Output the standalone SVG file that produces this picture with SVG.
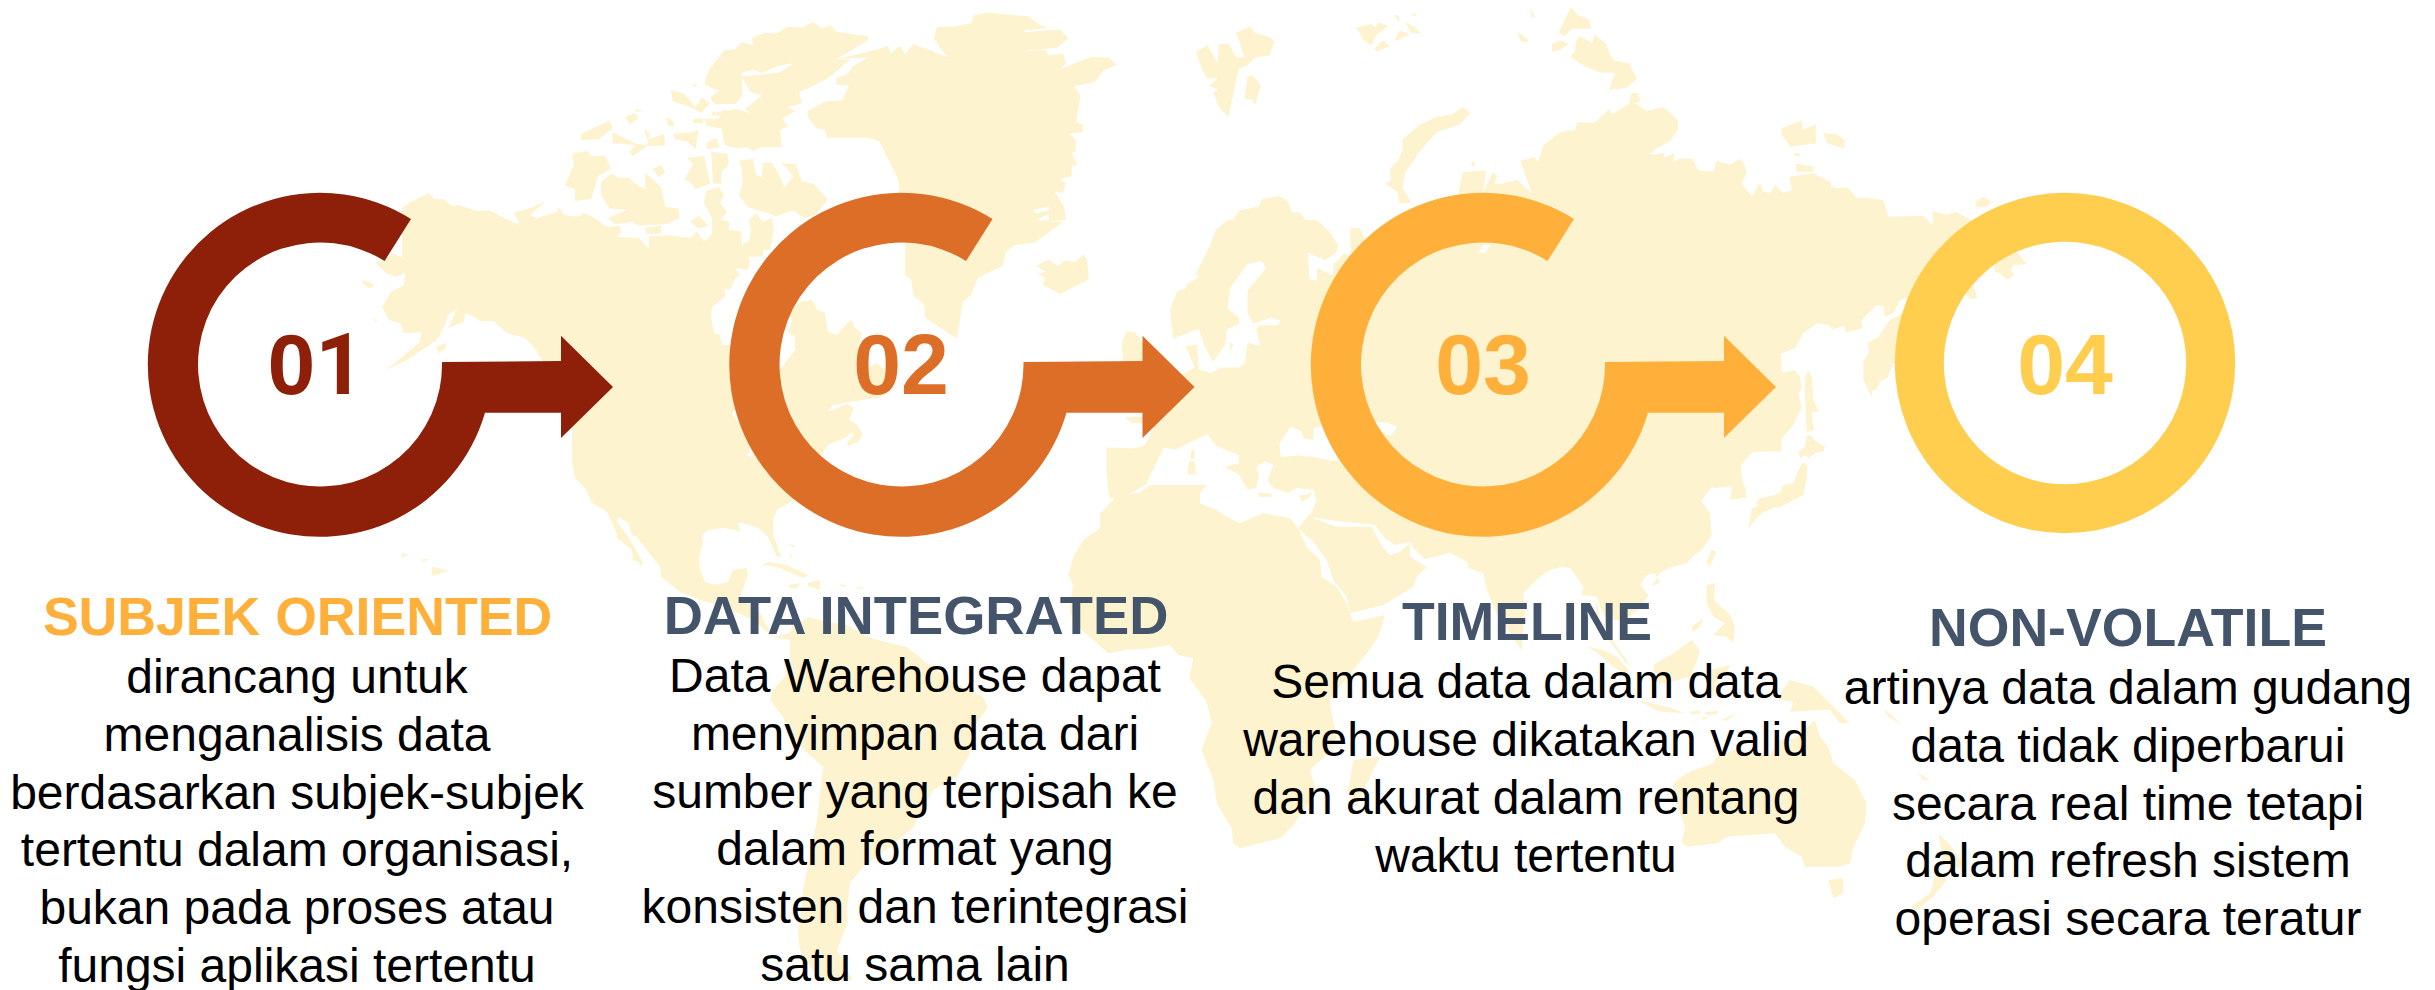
<svg xmlns="http://www.w3.org/2000/svg" width="2435" height="990" viewBox="0 0 2435 990">
<style>
.land polygon{fill:#FDF3CF}
.land polygon.sea{fill:#fff}
text{font-family:"Liberation Sans",Arial,sans-serif;text-anchor:middle}
.num{font-size:86px;font-weight:700}
.one{font-family:Roboto,"Liberation Sans",sans-serif}
.title{font-size:53.6px;font-weight:700;fill:#44546A}
.title.accent{fill:#FFB03B}
.body{font-size:48px;fill:#000}
</style>
<rect width="2435" height="990" fill="#fff"/>
<g id="world-map" class="land">
<polygon points="375,262 384,261 393,253 402,258 402,208 411,202 429,193 434,199 443,199 452,206 459,205 477,211 489,210 504,218 520,225 514,213 530,208 546,201 530,215 537,218 557,212 559,207 564,215 571,216 577,217 584,213 593,217 607,227 620,226 621,232 617,237 639,238 649,249 649,236 658,236 667,235 690,238 697,231 704,242 712,234 712,218 704,203 706,191 719,187 724,195 720,203 727,212 720,220 729,221 729,230 741,231 742,245 749,241 751,230 749,220 756,213 763,222 772,218 774,230 770,250 763,250 763,256 748,257 750,260 748,270 735,268 740,275 735,279 730,290 720,288 725,290 725,297 712,307 711,317 714,333 720,335 722,345 730,345 757,373 782,367 795,350 795,337 788,332 792,322 790,312 800,302 812,300 817,310 825,313 828,332 837,335 847,323 852,320 854,327 862,333 858,347 870,367 877,363 885,370 887,393 882,397 850,402 833,405 827,412 847,404 854,408 849,420 857,425 863,434 858,442 848,446 847,442 854,435 852,432 847,437 828,445 823,453 797,498 777,510 773,520 773,533 781,557 777,557 768,537 758,528 743,523 738,523 740,532 735,530 723,528 708,530 702,535 703,543 699,557 700,570 705,582 715,585 728,582 733,570 747,568 748,575 740,597 760,613 773,637 790,640 790,670 773,690 770,700 783,717 793,740 823,767 817,820 803,890 798,933 800,950 810,967 827,982 853,980 847,970 837,950 848,922 847,910 850,883 863,867 890,847 913,828 933,790 957,777 970,753 970,733 988,707 983,697 950,680 927,663 907,647 890,643 867,637 847,625 823,621 810,617 793,625 790,633 773,637 753,620 727,608 700,600 680,592 661,577 660,567 637,537 632,535 628,523 618,517 617,522 627,535 640,557 643,563 640,566 639,562 633,560 632,550 617,538 617,534 612,523 607,512 592,503 585,488 575,478 572,463 572,430 565,395 543,362 534,347 525,338 507,333 493,321 480,321 471,315 465,313 464,322 448,328 457,309 448,315 444,327 437,340 407,360 386,370 407,353 420,342 421,332 411,333 404,333 400,323 389,320 382,307 391,292 404,285 405,273 395,277 386,273"/>
<polygon class="sea" points="732,414 737,406 742,418 738,422"/>
<polygon class="sea" points="747,456 751,447 755,444 752,457"/>
<g transform="translate(100 150) scale(.357 .3333)">
<polygon points="735,390 760,398 768,408 755,415 735,400"/>
<polygon points="765,507 778,510 772,515"/>
<polygon points="943,590 968,578 970,595 948,610"/>
</g>
<g transform="translate(380 0) scale(.574 .3827)">
<polygon points="795,155 850,135 885,120 890,140 905,120 915,140 930,115 955,130 990,150 975,125 965,100 970,70 1000,70 1030,60 1035,40 1060,33 1130,43 1150,65 1170,75 1120,80 1185,78 1200,100 1180,125 1110,135 1160,130 1165,145 1190,140 1195,165 1185,180 1240,148 1270,150 1283,170 1260,185 1245,215 1210,225 1220,250 1213,320 1225,325 1225,345 1200,350 1212,365 1212,395 1205,400 1215,430 1205,435 1205,460 1185,470 1195,478 1190,505 1175,500 1192,540 1195,575 1165,578 1190,580 1140,635 1105,640 1090,660 1085,695 1042,725 1030,770 1015,790 1005,885 960,840 950,830 948,795 930,775 925,730 915,720 915,640 908,560 903,470 870,370 850,360 780,360 775,340 760,335 745,305 745,290 775,265 805,262 817,225 795,220 795,205 817,190 822,175 850,150 815,152"/>
<polygon class="sea" points="1138,548 1165,540 1165,550 1143,557"/>
<polygon class="sea" points="1145,572 1165,560 1165,575 1150,577"/>
<polygon class="sea" points="1120,80 1170,72 1175,78 1125,84"/>
<polygon class="sea" points="955,110 965,105 970,130 960,125"/>
<polygon class="sea" points="1215,232 1228,228 1230,242 1218,243"/>
<polygon points="1143,695 1165,678 1180,695 1195,680 1210,685 1225,665 1232,680 1235,730 1185,768 1155,745 1158,725 1145,715 1160,710"/>
<polygon points="590,150 600,132 620,128 630,110 650,118 648,100 670,85 690,88 710,70 735,72 755,58 770,75 785,65 795,83 850,95 850,105 795,155 820,155 800,180 780,205 750,228 730,240 735,270 710,280 725,290 700,310 712,330 697,340 700,385 665,385 650,395 640,385 620,388 600,378 595,335 570,330 565,310 590,310 595,290 620,285 650,298 635,285 665,250 645,240 630,200 695,190 720,165 695,172 665,190 650,182 630,190 615,175"/>
<polygon points="590,150 572,185 565,220 590,238 575,255 582,272 620,272 632,245 630,190 615,175"/>
<polygon points="625,420 650,415 655,455 665,465 667,425 683,425 695,455 705,490 720,460 700,425 725,430 735,475 755,480 780,520 760,560 740,570 720,550 690,565 640,540 625,510 632,480 630,440"/>
<polygon points="507,235 530,245 550,280 560,255 575,270 560,295 545,282 510,265"/>
<polygon points="545,220 552,220 552,226 545,226"/>
<polygon points="545,310 563,310 563,322 545,322"/>
<polygon points="578,292 592,292 592,302 578,302"/>
<polygon points="605,298 618,298 618,305 605,305"/>
<polygon points="510,350 545,345 555,340 550,390 535,370 515,365"/>
<polygon points="568,375 585,360 592,385 570,390"/>
<polygon points="350,350 400,315 405,335 380,365 350,365"/>
<polygon points="405,345 445,375 465,380 470,350 460,335 465,365 495,350 497,380 465,382 440,408 435,395 445,380 420,375 405,375"/>
<polygon points="427,305 445,295 450,310 435,325"/>
<polygon points="445,285 460,290 445,292"/>
<polygon points="497,305 510,315 512,330 503,330"/>
<polygon points="335,400 362,395 367,407 392,407 403,440 380,460 368,520 340,525 340,495 322,485 338,430"/>
<polygon points="385,475 405,452 415,465 435,465 440,475 462,495 462,450 490,490 497,540 520,545 522,570 500,585 450,590 440,580 410,585 397,570 430,548 400,545 385,510"/>
<polygon points="475,440 490,432 497,450 485,463"/>
<polygon points="535,412 565,407 575,480 550,495 540,475 530,470 545,430"/>
<polygon points="577,397 605,402 608,430 595,450 595,480 580,480"/>
<polygon points="540,580 555,563 572,590 555,597"/>
<polygon points="462,595 490,590 490,610 465,612"/>
<polygon points="1292,900 1300,865 1315,868 1329,895 1329,945 1295,945"/>
<polygon points="1298,1090 1330,1088 1330,1105 1310,1105"/>
<polygon points="38,1445 50,1450 38,1458"/>
<polygon points="70,1462 88,1460 75,1468"/>
<polygon points="90,1480 120,1492 90,1505"/>
</g>
<g transform="translate(560 400) scale(.3333)">
<polygon points="600,500 625,485 680,495 745,525 730,535 650,500 620,495"/>
<polygon points="680,433 705,435 700,442"/>
<polygon points="685,460 695,465 695,478"/>
<polygon points="685,555 720,550 710,565 690,565"/>
<polygon points="742,550 780,540 780,570 745,558"/>
</g>
<g transform="translate(650 500) scale(.3333)">
<polygon points="570,252 595,258 575,262"/>
<polygon points="615,262 650,265 625,268"/>
</g>
<g transform="translate(1150 0) scale(.574 .3827)">
<polygon points="35,810 48,760 62,755 65,740 85,725 80,715 105,640 115,600 135,575 145,575 155,550 175,545 190,538 195,520 225,512 240,525 248,555 262,555 270,575 290,575 310,600 328,640 325,660 305,680 275,660 278,730 290,735 292,700 318,720 320,690 338,662 350,668 348,597 365,595 375,625 430,620 480,560 530,530 537,505 545,450 585,445 583,475 580,505 597,450 605,460 600,480 612,480 640,470 665,505 645,420 670,410 675,425 685,380 715,345 740,340 745,320 775,320 800,285 805,300 835,270 838,243 850,243 855,265 845,270 865,290 895,280 920,315 920,340 905,370 880,390 870,405 895,400 895,412 913,400 912,425 920,415 945,415 955,445 982,448 987,420 1010,430 1030,415 1040,450 1030,480 1050,515 1060,480 1070,505 1100,520 1100,1180 1050,1180 1030,1215 1030,1240 1040,1300 1010,1305 1015,1270 985,1275 960,1265 945,1250 965,1300 960,1310 975,1340 978,1400 960,1440 890,1495 800,1500 500,1430 392,1372 320,1360 278,1350 290,1310 285,1280 255,1275 240,1288 215,1275 205,1255 215,1215 200,1205 185,1220 190,1240 185,1275 170,1280 155,1240 130,1220 155,1210 155,1190 115,1165 100,1135 71,1155 44,1175 24,1170 1,1240 -6,1265 -51,1305 -71,1300 -76,1230 -76,1170 -55,1170 -30,1172 -10,1165 0,1140 5,1120 20,1040 60,975 78,960 62,905 82,900 85,965 105,975 125,960 155,960 165,950 170,895 192,905 185,860 190,850 222,850 228,838 212,830 180,845 170,820 170,760 202,700 195,682 170,690 140,750 135,805 155,830 155,845 135,860 130,905 110,945 95,905 85,860 65,870 40,885"/>
<polygon class="sea" points="245,1115 262,1125 268,1145 285,1150 285,1120 300,1112 320,1130 345,1170 335,1200 320,1205 290,1195 255,1190 228,1195 225,1160"/>
<polygon class="sea" points="385,1100 415,1105 430,1115 420,1140 405,1130 380,1135"/>
<polygon class="sea" points="572,660 585,660 593,638 580,640"/>
<polygon points="470,325 500,305 525,300 545,280 558,295 540,325 500,345 470,395 445,450 440,490 455,530 435,532 430,500 410,480 420,470 418,440 432,420 440,390 440,365"/>
<polygon points="80,135 100,118 118,165 120,115 138,115 150,150 165,150 150,85 175,70 182,85 210,98 217,110 208,145 183,150 170,170 155,180 150,210 137,305 120,280 110,240 120,235 103,225 118,205 100,205 90,180"/>
<polygon points="170,200 180,198 193,225 183,275 178,260 165,258"/>
<polygon points="360,72 385,62 392,72 398,58 415,68 395,90 385,118 372,105"/>
<polygon points="390,130 405,105 418,120 395,135"/>
<polygon points="425,40 433,40 435,60"/>
<polygon points="425,105 435,80 452,90 430,105"/>
<polygon points="445,58 460,70 472,85 455,88"/>
<polygon points="457,35 463,35 463,42 457,42"/>
<polygon points="662,20 672,45 665,45"/>
<polygon points="640,82 660,105 655,112 645,105"/>
<polygon points="733,18 745,40 765,50 768,75 735,75 722,95 712,85"/>
<polygon points="700,115 715,105 730,115 715,130 700,135"/>
<polygon points="732,148 740,135 742,110 748,95 770,112 775,90 795,115 800,140 810,160 815,160 835,165 848,205 830,230 800,235 810,190 785,190 760,175"/>
<polygon points="1100,335 1135,315 1137,340 1160,325 1160,375 1115,383 1100,350"/>
<polygon points="1172,348 1195,350 1210,365 1210,388 1180,375"/>
<polygon points="1122,400 1132,400 1132,408 1122,408"/>
<polygon points="1125,428 1155,435 1155,447 1125,445"/>
<polygon points="560,423 566,423 566,435 560,435"/>
<polygon points="140,895 146,900 138,920"/>
<polygon points="72,1175 78,1175 78,1200 70,1200"/>
<polygon points="68,1205 78,1205 80,1240 65,1240"/>
<polygon points="190,1285 212,1297 190,1300"/>
<polygon points="260,1295 280,1290 265,1310"/>
</g>
<g transform="translate(1750 150) scale(.3333)">
<polygon points="-10,140 15,135 30,100 40,125 60,130 75,105 100,130 125,120 118,80 190,70 240,95 245,110 260,115 293,112 320,145 340,142 400,150 415,200 520,197 548,225 548,183 590,195 617,185 665,210 800,305 830,343 790,345 783,362 793,375 775,388 765,385 750,370 735,365 730,345 670,405 682,445 665,448 640,430 560,420 450,450 430,490 405,500 400,470 380,465 345,500 333,515 340,535 285,548 285,528 245,538 235,525 200,520 160,550 135,595 95,610 70,645 90,650 100,668 135,660 150,680 155,715 145,730 155,770 130,825 65,900 -10,910"/>
<polygon points="175,660 185,680 190,750 207,785 185,785 192,840 170,845 165,730 165,680"/>
<polygon points="340,635 358,605 352,580 385,560 420,510 500,470 500,620 430,640 412,685 392,692 378,720 368,720 365,740 340,690"/>
<polygon points="168,860 180,855 195,872 225,890 220,905 195,910 175,925 165,915 150,925 145,905 165,890"/>
<polygon points="160,935 172,950 170,990 160,1035 85,1075 75,1060 55,1080 40,1075 20,1060 5,1075 30,1045 75,1035 90,1025 100,1005 130,1000 145,960"/>
<polygon points="5,1075 30,1075 35,1085 15,1110 0,1115"/>
<polygon points="130,10 145,10 145,17 135,17"/>
<polygon points="140,42 190,50 190,65 140,65"/>
<polygon points="675,155 700,140 725,155 710,170 680,172"/>
</g>
<g transform="translate(1050 480) scale(.3333)">
<polygon points="210,30 190,60 150,100 150,145 100,180 70,230 55,285 70,315 60,370 60,400 95,450 175,520 230,510 300,505 360,495 385,525 430,535 418,595 470,665 485,730 455,810 490,900 500,970 545,1045 550,1090 570,1105 690,1075 730,1035 800,935 780,870 840,815 860,770 838,660 950,520 985,470 1005,405 910,425 900,400 890,370 860,320 815,290 810,240 770,200 745,145 720,115 640,100 570,130 530,110 500,90 450,70 450,40 470,15 300,15 265,40 230,40"/>
<polygon points="745,145 790,185 830,240 850,300 890,350 900,400 1000,375 1090,320 1100,290 1130,262 1080,230 1080,190 1050,215 1020,225 1000,205 965,140 860,140 790,115 780,100"/>
<polygon points="910,840 990,830 960,890 915,985 895,930"/>
<polygon points="625,40 660,40 670,50 630,48"/>
<polygon points="750,50 790,35 775,55 755,65"/>
</g>
<g transform="translate(1500 480) scale(.3333)">
<polygon points="-375,135 -345,175 -315,195 -270,185 -260,205 -225,238 -150,218 -100,245 -92,265 -50,280 -40,330 -10,400 65,510 75,400 70,340 120,290 150,270 205,255 250,320 245,345 290,350 305,390 320,420 375,420 425,380 445,345 420,315 440,285 465,280 480,305 455,320 485,270 560,250 605,205 635,165 630,100 600,65 640,15 620,5 590,-20 -375,-40"/>
<polygon points="290,360 300,420 330,470 380,540 385,560 350,510 310,460 285,410"/>
<polygon points="695,0 720,0 740,30 715,60 695,40"/>
<polygon points="760,85 790,65 840,40 900,0 910,40 840,75 785,100 760,125 745,148 755,90"/>
<polygon points="635,210 648,215 630,262 620,245"/>
<polygon points="620,315 645,310 642,360 690,405 705,440 700,490 680,470 640,465 675,430 640,410 620,370"/>
<polygon points="575,440 610,415 600,440 580,455"/>
<polygon points="265,500 310,510 350,530 385,570 378,585 340,560 300,525"/>
<polygon points="460,555 520,520 575,480 600,510 590,545 570,590 500,610 470,610"/>
<polygon points="630,570 690,555 680,580 650,600 640,650 620,640"/>
<polygon points="410,660 500,680 555,700 480,695"/>
<polygon points="570,695 600,692 600,702 575,703"/>
<polygon points="615,697 655,692 650,703 620,705"/>
<polygon points="605,710 625,712 610,720"/>
<polygon points="665,720 715,695 680,722"/>
<polygon points="835,650 870,600 940,620 985,665 1050,730 1020,730 990,690 960,690 870,695 880,665 835,660"/>
<polygon points="1020,650 1045,655 1080,665 1050,665"/>
<polygon points="1150,685 1180,710 1205,735 1165,710"/>
<polygon points="520,910 560,880 640,850 650,830 700,810 810,825 840,780 885,775 945,720 960,770 985,800 1000,850 1065,900 1100,970 1095,1030 1060,1100 1050,1150 1020,1160 915,1160 905,1130 855,1100 825,1060 680,1070 655,1090 560,1100 545,1085 555,1040 525,960"/>
<polygon points="985,1200 1030,1195 1030,1240 1000,1255"/>
<polygon points="1315,1060 1350,1095 1385,1145 1380,1165 1330,1150"/>
<polygon points="1310,1170 1340,1200 1300,1250 1240,1300 1235,1280 1290,1240"/>
<polygon points="1250,875 1290,900 1270,900"/>
</g>
</g>
<defs>
<path id="ring" d="M411 219A172 172 0 1 0 485 412.7L442 362A122 122 0 1 1 384.6 261Z"/>
<path id="arrow" d="M442 362L561 361V335.7L613 387L561 438V412.7H485L455 400Z"/>
</defs>
<g id="connectors">
<use href="#arrow" fill="#8E200A"/>
<use href="#arrow" fill="#DD6E27" x="581.5"/>
<use href="#arrow" fill="#FFB03B" x="1163"/>
</g>
<g id="node-01">
<use href="#ring" fill="#8E200A"/>
<text class="num" x="316" y="394" fill="#8E200A">0<tspan class="one">1</tspan></text>
<text class="title accent" x="297.5" y="635">SUBJEK ORIENTED</text>
<text class="body" x="297" y="693">dirancang untuk</text>
<text class="body" x="297" y="751">menganalisis data</text>
<text class="body" x="297" y="809">berdasarkan subjek-subjek</text>
<text class="body" x="297" y="866">tertentu dalam organisasi,</text>
<text class="body" x="297" y="924">bukan pada proses atau</text>
<text class="body" x="297" y="982">fungsi aplikasi tertentu</text>
</g>
<g id="node-02">
<use href="#ring" fill="#DD6E27" x="581.5"/>
<text class="num" x="901" y="394" fill="#DD6E27">02</text>
<text class="title" x="916" y="634" style="font-size:54.3px">DATA INTEGRATED</text>
<text class="body" x="915" y="692">Data Warehouse dapat</text>
<text class="body" x="915" y="750">menyimpan data dari</text>
<text class="body" x="915" y="808">sumber yang terpisah ke</text>
<text class="body" x="915" y="865">dalam format yang</text>
<text class="body" x="915" y="923">konsisten dan terintegrasi</text>
<text class="body" x="915" y="981">satu sama lain</text>
</g>
<g id="node-03">
<use href="#ring" fill="#FFB03B" x="1163"/>
<text class="num" x="1483" y="394" fill="#FFB03B">03</text>
<text class="title" x="1527" y="640">TIMELINE</text>
<text class="body" x="1526" y="698">Semua data dalam data</text>
<text class="body" x="1526" y="756">warehouse dikatakan valid</text>
<text class="body" x="1526" y="814">dan akurat dalam rentang</text>
<text class="body" x="1526" y="872">waktu tertentu</text>
</g>
<g id="node-04">
<circle cx="2065" cy="363" r="145.7" fill="none" stroke="#FFCE4E" stroke-width="49"/>
<text class="num" x="2065" y="394" fill="#FFCE4E">04</text>
<text class="title" x="2128" y="646">NON-VOLATILE</text>
<text class="body" x="2128" y="704">artinya data dalam gudang</text>
<text class="body" x="2128" y="762">data tidak diperbarui</text>
<text class="body" x="2128" y="820">secara real time tetapi</text>
<text class="body" x="2128" y="877">dalam refresh sistem</text>
<text class="body" x="2128" y="935">operasi secara teratur</text>
</g>
</svg>
